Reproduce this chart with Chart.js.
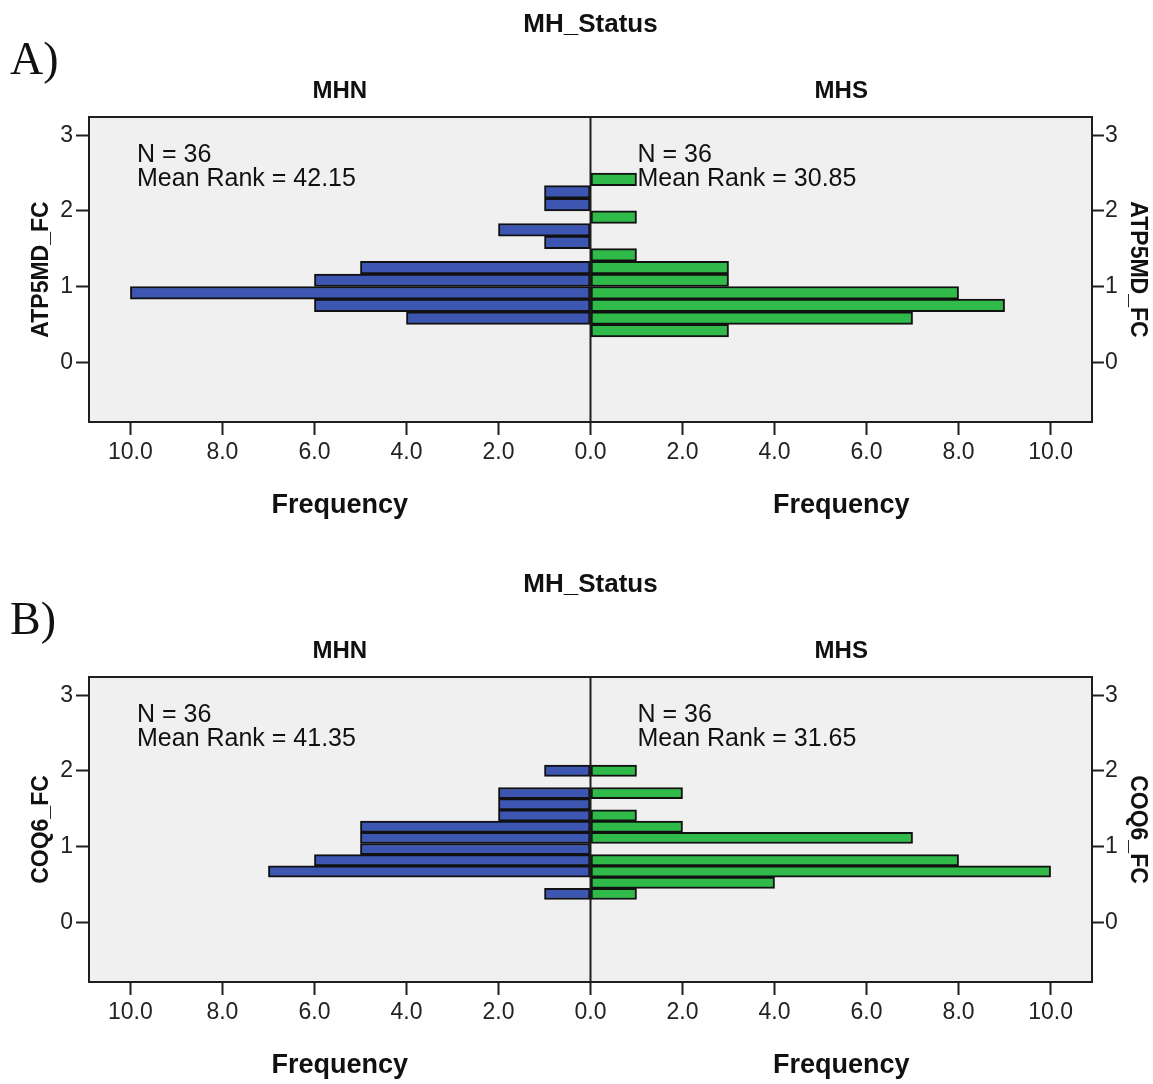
<!DOCTYPE html>
<html>
<head>
<meta charset="utf-8">
<title>MH_Status frequency histograms</title>
<script src="https://cdn.jsdelivr.net/npm/chart.js@4.4.0/dist/chart.umd.min.js"></script>
<style>
  body { margin: 0; background: #fff; width: 1153px; height: 1084px; overflow: hidden; position: relative; }
  .panel { position: absolute; left: 0; width: 1153px; height: 560px; }
  .tag { position: absolute; left: 10px; font-family: 'Liberation Serif', 'Times New Roman', serif; font-size: 46px; color: #111; line-height: 1; }
</style>
</head>
<body>
<div class="panel" style="top:0"><canvas id="chartA"></canvas></div>
<div class="panel" style="top:560px"><canvas id="chartB"></canvas></div>
<div class="tag" style="top:36px">A)</div>
<div class="tag" style="top:596px">B)</div>
<script>
// groups and axis ticks
var groups = ['MHN', 'MHS'];
var freqTicks = [-10, -8, -6, -4, -2, 0, 2, 4, 6, 8, 10];
var valueTicks = [0, 1, 2, 3];

// A) ATP5MD_FC - bin midpoints (bottom to top) and counts
var binsA = [0.417, 0.583, 0.750, 0.917, 1.083, 1.250, 1.417, 1.583, 1.750, 1.917, 2.083, 2.250, 2.417];
var mhnA = [0, 4, 6, 10, 6, 5, 0, 1, 2, 0, 1, 1, 0];
var mhsA = [3, 7, 9, 8, 3, 3, 1, 0, 0, 1, 0, 0, 1];
var nA = [36, 36];
var rankA = ['42.15', '30.85'];

// B) COQ6_FC
var binsB = [0.374, 0.522, 0.670, 0.818, 0.966, 1.114, 1.262, 1.410, 1.558, 1.706, 1.854, 2.002];
var mhnB = [1, 0, 7, 6, 5, 5, 5, 2, 2, 2, 0, 1];
var mhsB = [1, 4, 10, 8, 0, 7, 2, 1, 0, 2, 0, 1];
var nB = [36, 36];
var rankB = ['41.35', '31.65'];

var FONT = "'Liberation Sans', Arial, sans-serif";
Chart.defaults.font.family = FONT;
Chart.defaults.color = '#222';

var BLUE = '#3d56b2';
var GREEN = '#30ba49';
var INK = '#1e1e1e';

// background, frame, zero line and the SPSS style labels
var panelDecor = {
    id: 'panelDecor',
    beforeDraw: function (chart) {
        var a = chart.chartArea, ctx = chart.ctx;
        ctx.save();
        ctx.fillStyle = '#f0f0f0';
        ctx.fillRect(a.left, a.top, a.right - a.left, a.bottom - a.top);
        ctx.restore();
    },
    afterDraw: function (chart, args, opts) {
        var a = chart.chartArea, ctx = chart.ctx;
        var x0 = chart.scales.x.getPixelForValue(0);
        var midL = (a.left + x0) / 2, midR = (x0 + a.right) / 2;
        ctx.save();
        ctx.strokeStyle = INK;
        ctx.lineWidth = 2;
        ctx.strokeRect(a.left, a.top, a.right - a.left, a.bottom - a.top);
        ctx.beginPath();
        ctx.moveTo(x0, a.top);
        ctx.lineTo(x0, a.bottom);
        ctx.stroke();

        ctx.fillStyle = '#111';
        ctx.textAlign = 'center';
        ctx.textBaseline = 'middle';
        ctx.font = 'bold 26px ' + FONT;
        ctx.fillText('MH_Status', (a.left + a.right) / 2, 25);
        ctx.font = 'bold 24px ' + FONT;
        ctx.fillText(groups[0], midL, 91);
        ctx.fillText(groups[1], midR, 91);
        ctx.font = 'bold 27px ' + FONT;
        ctx.fillText('Frequency', midL, 506);
        ctx.fillText('Frequency', midR, 506);

        ctx.textAlign = 'left';
        ctx.textBaseline = 'alphabetic';
        ctx.font = '25px ' + FONT;
        var xs = [a.left + 48, x0 + 47];
        for (var i = 0; i < 2; i++) {
            ctx.fillText('N = ' + opts.n[i], xs[i], a.top + 45);
            ctx.fillText('Mean Rank = ' + opts.rank[i], xs[i], a.top + 69);
        }
        ctx.restore();
    }
};

function setTicks(list) {
    return function (scale) {
        scale.ticks = list.map(function (v) { return { value: v }; });
    };
}

function makePanel(id, yTitle, bins, mhn, mhs, nVals, ranks) {
    var yMin = -0.79, yMax = 3.24;
    var tickGrid = { drawOnChartArea: false, drawTicks: true, offset: false, tickLength: 13, tickColor: INK, tickWidth: 2 };
    new Chart(id, {
        type: 'bar',
        plugins: [panelDecor],
        data: {
            datasets: [{
                label: groups[0],
                data: bins.map(function (b, i) { return { y: b, x: -mhn[i] }; }),
                backgroundColor: BLUE
            }, {
                label: groups[1],
                data: bins.map(function (b, i) { return { y: b, x: mhs[i] }; }),
                backgroundColor: GREEN
            }]
        },
        options: {
            indexAxis: 'y',
            responsive: true,
            maintainAspectRatio: false,
            animation: false,
            grouped: false,
            barPercentage: 1,
            categoryPercentage: 1,
            borderWidth: 2,
            borderColor: '#111',
            borderSkipped: false,
            layout: { padding: { top: 117, left: 0, right: 0, bottom: 0 } },
            plugins: {
                legend: { display: false },
                tooltip: { enabled: false },
                panelDecor: { n: nVals, rank: ranks }
            },
            scales: {
                x: {
                    type: 'linear',
                    position: 'bottom',
                    offset: false,
                    min: -10.9,
                    max: 10.9,
                    afterBuildTicks: setTicks(freqTicks),
                    afterFit: function (s) { s.height = 138; },
                    border: { display: false },
                    grid: tickGrid,
                    ticks: {
                        autoSkip: false, maxRotation: 0, padding: 4,
                        font: { size: 23 },
                        callback: function (v) { return Math.abs(v).toFixed(1); }
                    }
                },
                y: {
                    type: 'linear',
                    position: 'left',
                    offset: false,
                    min: yMin,
                    max: yMax,
                    afterBuildTicks: setTicks(valueTicks),
                    afterFit: function (s) { s.width = 89; },
                    border: { display: false },
                    grid: tickGrid,
                    ticks: { padding: 3, font: { size: 23 } },
                    title: { display: true, text: yTitle, font: { size: 23, weight: 'bold' }, color: '#111', padding: { top: 28 } }
                },
                y2: {
                    type: 'linear',
                    position: 'right',
                    offset: false,
                    min: yMin,
                    max: yMax,
                    afterBuildTicks: setTicks(valueTicks),
                    afterFit: function (s) { s.width = 61; },
                    border: { display: false },
                    grid: Object.assign({}, tickGrid, { tickLength: 12 }),
                    ticks: { padding: 1, font: { size: 23 } },
                    title: { display: true, text: yTitle, font: { size: 23, weight: 'bold' }, color: '#111', padding: { top: 2 } }
                }
            }
        }
    });
}

makePanel('chartA', 'ATP5MD_FC', binsA, mhnA, mhsA, nA, rankA);
makePanel('chartB', 'COQ6_FC', binsB, mhnB, mhsB, nB, rankB);
</script>
</body>
</html>
